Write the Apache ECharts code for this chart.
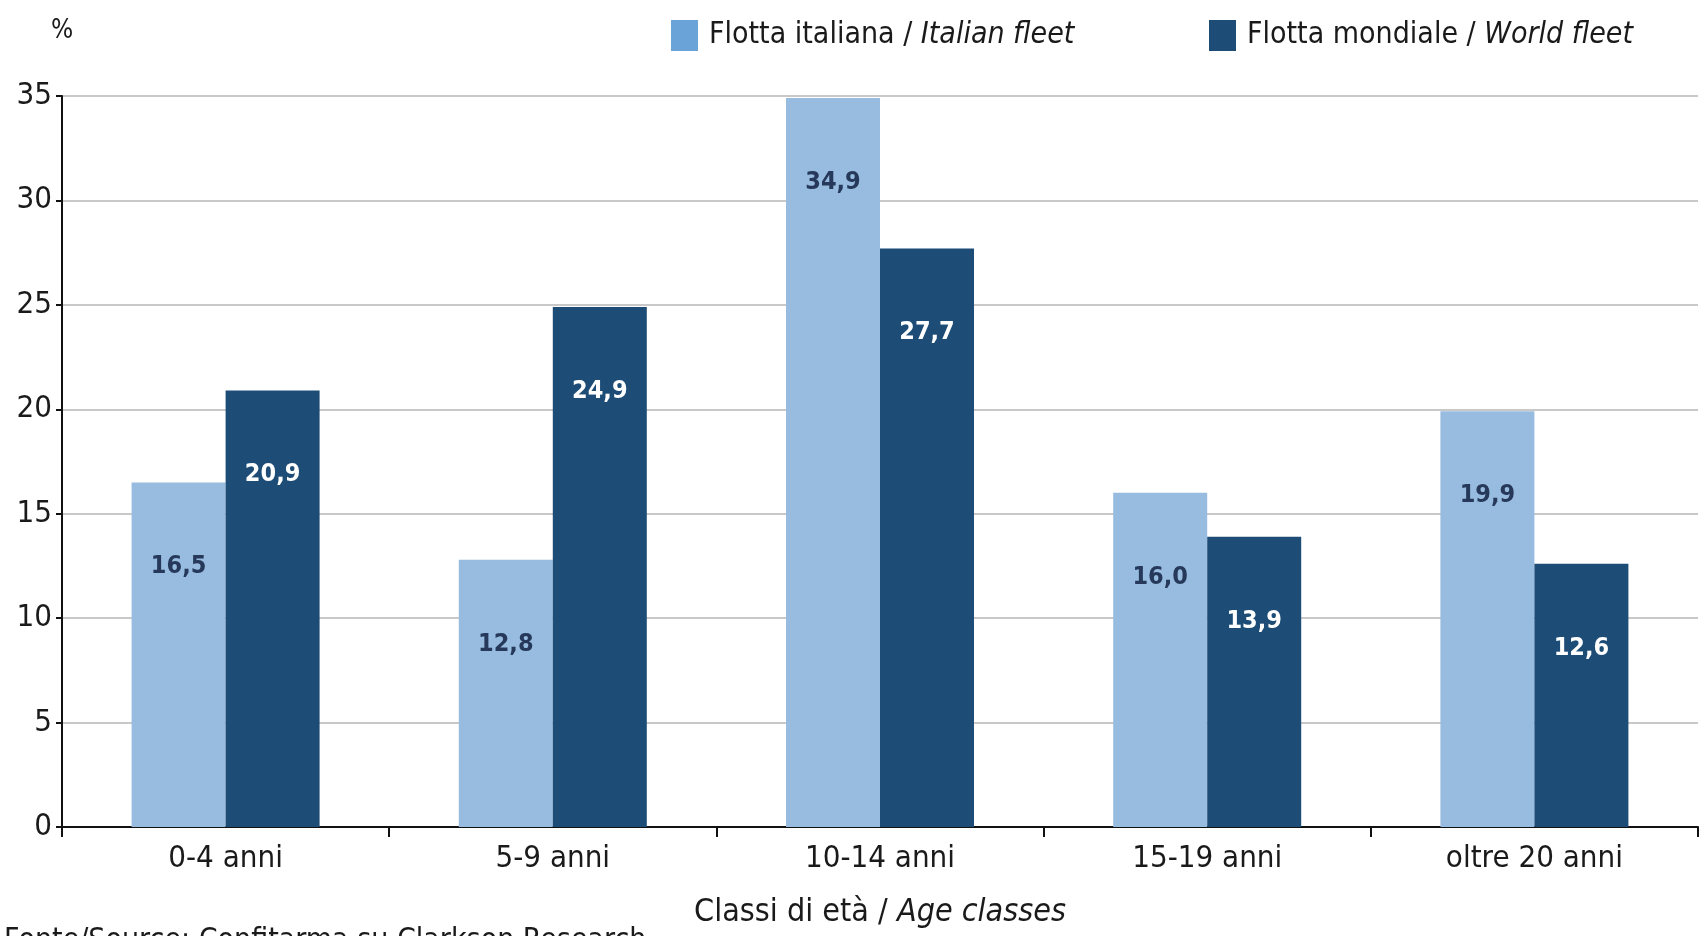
<!DOCTYPE html>
<html>
<head>
<meta charset="utf-8">
<script src="https://cdn.jsdelivr.net/npm/echarts@6/dist/echarts.min.js"></script>
<style>
  html, body { margin: 0; padding: 0; background: #ffffff; }
  #chart { width: 1706px; height: 936px; }
</style>
</head>
<body>
<div id="chart"></div>
<script>
// Age classes of the fleet (share of tonnage, %)
const categories = ['0-4 anni', '5-9 anni', '10-14 anni', '15-19 anni', 'oltre 20 anni'];
const italianFleet = [16.5, 12.8, 34.9, 16.0, 19.9];
const worldFleet = [20.9, 24.9, 27.7, 13.9, 12.6];
const yTicks = [0, 5, 10, 15, 20, 25, 30, 35];

const FONT = "'DejaVu Sans Condensed', 'Liberation Sans Narrow', 'Open Sans', sans-serif";
const LIGHT = '#97bcdf';
const DARK = '#1d4d76';

const fmt = p => p.value.toFixed(1).replace('.', ',');

const richText = {
  a: { fontFamily: FONT, fontSize: 32, color: '#1a1a1a' },
  b: { fontFamily: FONT, fontSize: 32, color: '#1a1a1a', fontStyle: 'italic' }
};
const legendRich = {
  a: { fontFamily: FONT, fontSize: 30, color: '#1a1a1a' },
  b: { fontFamily: FONT, fontSize: 30, color: '#1a1a1a', fontStyle: 'italic' }
};

function legendAt(left, name, color, formatted) {
  return {
    top: 15,
    left: left,
    itemWidth: 27,
    itemHeight: 31,
    itemGap: 0,
    icon: 'rect',
    data: [{ name: name, itemStyle: { color: color } }],
    formatter: () => formatted,
    textStyle: { fontFamily: FONT, padding: [0, 0, 0, 6], rich: legendRich }
  };
}

const chart = echarts.init(document.getElementById('chart'));
chart.setOption({
  backgroundColor: '#ffffff',
  animation: false,
  textStyle: { fontFamily: FONT },
  grid: { left: 62, right: 8, top: 96, bottom: 109, containLabel: false },
  legend: [
    legendAt(666, 'Flotta italiana', '#6aa3d8', '{a|Flotta italiana / }{b|Italian fleet}'),
    legendAt(1204, 'Flotta mondiale', DARK, '{a|Flotta mondiale / }{b|World fleet}')
  ],
  xAxis: {
    type: 'category',
    data: categories,
    name: '{a|Classi di età / }{b|Age classes}',
    nameLocation: 'middle',
    nameGap: 70,
    nameTextStyle: { rich: richText },
    axisLine: { lineStyle: { color: '#111', width: 2 } },
    axisTick: { show: true, length: 10, lineStyle: { color: '#111', width: 2 } },
    axisLabel: { fontFamily: FONT, fontSize: 31, color: '#1a1a1a', margin: 16 }
  },
  yAxis: {
    type: 'value',
    min: 0,
    max: 35,
    interval: 5,
    name: '%',
    nameLocation: 'end',
    nameGap: 52,
    nameTextStyle: { fontFamily: FONT, fontSize: 26, color: '#1a1a1a', align: 'center' },
    axisLine: { show: true, lineStyle: { color: '#111', width: 2 } },
    axisTick: { show: true, length: 6, lineStyle: { color: '#111', width: 2 } },
    axisLabel: {
      fontFamily: FONT, fontSize: 31, color: '#1a1a1a', margin: 10,
      formatter: v => yTicks.includes(v) ? String(v) : ''
    },
    splitLine: { show: true, lineStyle: { color: '#c8c8c8', width: 2 } }
  },
  series: [
    {
      name: 'Flotta italiana',
      type: 'bar',
      data: italianFleet,
      barWidth: 94,
      barGap: '0%',
      itemStyle: { color: LIGHT },
      label: {
        show: true, position: 'insideTop', distance: 72, formatter: fmt,
        fontFamily: FONT, fontSize: 25, fontWeight: 'bold', color: '#26395a'
      }
    },
    {
      name: 'Flotta mondiale',
      type: 'bar',
      data: worldFleet,
      barWidth: 94,
      barGap: '0%',
      itemStyle: { color: DARK },
      label: {
        show: true, position: 'insideTop', distance: 72, formatter: fmt,
        fontFamily: FONT, fontSize: 25, fontWeight: 'bold', color: '#ffffff'
      }
    }
  ],
  graphic: [
    {
      type: 'text',
      left: 4,
      top: 926,
      style: {
        text: 'Fonte/Source: Confitarma su Clarkson Research',
        font: "30px 'DejaVu Sans Condensed', sans-serif",
        fill: '#1a1a1a'
      }
    }
  ]
});
</script>
</body>
</html>
